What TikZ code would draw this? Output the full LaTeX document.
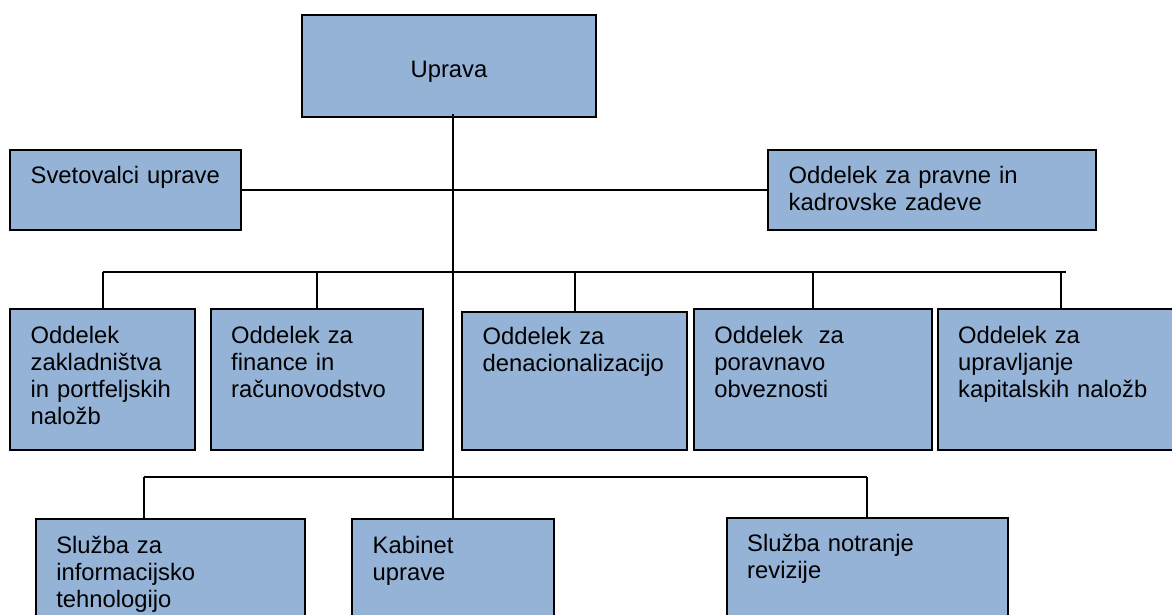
\documentclass[tikz,border=0pt]{standalone}
\usepackage{fontspec}
\newfontfamily\boxfont{Liberation Sans}
\usetikzlibrary{calc}
\definecolor{boxblue}{RGB}{149,179,215}
\tikzset{
  box/.style={draw=black, line width=2pt, fill=boxblue, rectangle, inner sep=0pt, outer sep=0pt, anchor=north west},
  lbl/.style={font=\boxfont\fontsize{23.8}{27.3}\selectfont, align=left, text width=300pt, anchor=base west, inner sep=0pt},
  conn/.style={line width=2pt}
}
\begin{document}
\begin{tikzpicture}[x=1pt,y=-1pt]
\useasboundingbox (0,0) rectangle (1172,614);
\clip (0,0) rectangle (1172,614);
% connector coordinates
\coordinate (spine) at (453,114);
\coordinate (bus) at (0,271.5);
\coordinate (busR) at (1066,271.5);
\coordinate (lbus) at (0,477);
% boxes
\node[box, minimum width=294pt, minimum height=102pt] (uprava) at (302,15) {};
\node[box, minimum width=231pt, minimum height=80pt] (svet) at (10,150) {};
\node[box, minimum width=328pt, minimum height=80pt] (pravne) at (768,150) {};
\node[box, minimum width=185pt, minimum height=141pt] (b1) at (10,309) {};
\node[box, minimum width=212.5pt, minimum height=141pt] (b2) at (210.5,309) {};
\node[box, minimum width=225pt, minimum height=138pt] (b3) at (462,312) {};
\node[box, minimum width=238.4pt, minimum height=141pt] (b4) at (693.6,309) {};
\node[box, minimum width=245pt, minimum height=141pt] (b5) at (938,309) {};
\node[box, minimum width=269pt, minimum height=140pt] (s1) at (35.6,519.3) {};
\node[box, minimum width=202pt, minimum height=140pt] (kab) at (352,519.3) {};
\node[box, minimum width=281pt, minimum height=140pt] (notr) at (726.5,517.5) {};
\coordinate (s1drop) at (143.5,519.3);
% labels
\node[font=\boxfont\fontsize{23.8}{27.3}\selectfont, anchor=base, inner sep=0pt] (tuprava) at ($(uprava.north)+(0,62)$) {Uprava};
\node[lbl] (tsvet) at ($(svet.north west)+(20.5,33)$) {Svetovalci uprave};
\node[lbl] (tpravne) at ($(pravne.north west)+(20.5,33)$) {Oddelek za pravne in\\kadrovske zadeve};
\node[lbl] (tb1) at ($(b1.north west)+(20.5,34)$) {Oddelek\\zakladništva\\in portfeljskih\\naložb};
\node[lbl] (tb2) at ($(b2.north west)+(20.5,34)$) {Oddelek za\\finance in\\računovodstvo};
\node[lbl] (tb3) at ($(b3.north west)+(20.5,32.5)$) {Oddelek za\\denacionalizacijo};
\node[lbl] (tb4) at ($(b4.north west)+(20.5,34)$) {Oddelek\ \ za\\poravnavo\\obveznosti};
\node[lbl] (tb5) at ($(b5.north west)+(20,34)$) {Oddelek za\\upravljanje\\kapitalskih naložb};
\node[lbl] (ts1) at ($(s1.north west)+(20.5,34)$) {Služba za\\informacijsko\\tehnologijo};
\node[lbl] (tkab) at ($(kab.north west)+(20.5,34)$) {Kabinet\\uprave};
\node[lbl] (tnotr) at ($(notr.north west)+(20.5,34)$) {Služba notranje\\revizije};
% connectors
\draw[conn] (spine) -- (kab.north -| spine);
\draw[conn] (svet.east) -- (pravne.west);
\draw[conn] (b1.north |- bus) -- (busR);
\foreach \b in {b1,b2,b3,b4,b5} { \draw[conn] (\b.north) -- (\b.north |- bus); }
\draw[conn] (s1drop |- lbus) -- (notr.north |- lbus);
\draw[conn] (s1drop) -- (s1drop |- lbus);
\draw[conn] (notr.north) -- (notr.north |- lbus);
\end{tikzpicture}
\end{document}
